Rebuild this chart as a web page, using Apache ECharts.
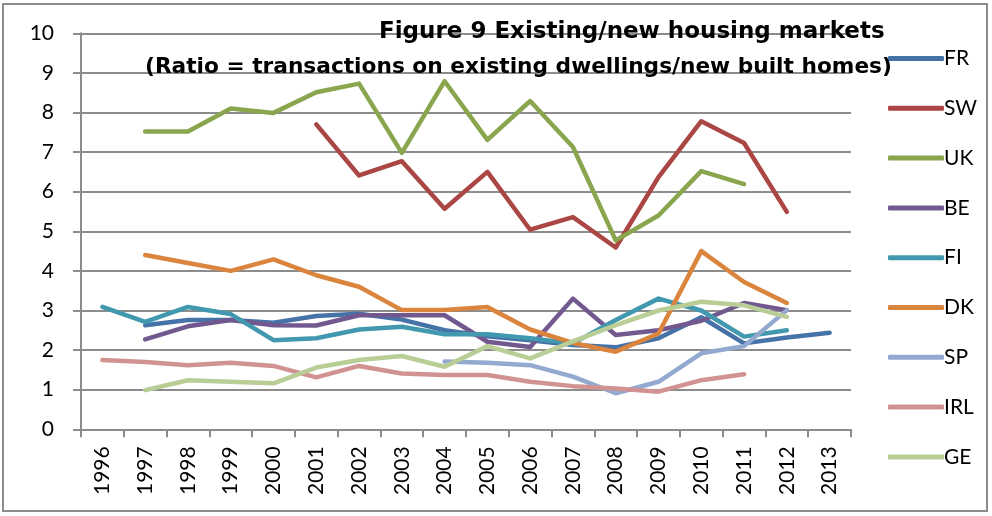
<!DOCTYPE html>
<html>
<head>
<meta charset="utf-8">
<script src="https://cdn.jsdelivr.net/npm/echarts@6/dist/echarts.min.js"></script>
<style>
  html, body { margin: 0; padding: 0; background: #fff; }
  #chart { width: 992px; height: 516px; }
  #frame { position: absolute; left: 2px; top: 3px; width: 986px; height: 509px; border: 2px solid #8c8c8c; box-sizing: border-box; pointer-events: none; }
</style>
</head>
<body>
<div id="chart"></div>
<div id="frame"></div>
<script>
var years = ['1996','1997','1998','1999','2000','2001','2002','2003','2004','2005','2006','2007','2008','2009','2010','2011','2012','2013'];
var yTicks = [0, 10, 1];

var FR  = [null, 2.63, 2.76, 2.76, 2.69, 2.86, 2.92, 2.77, 2.5, 2.35, 2.25, 2.13, 2.07, 2.3, 2.83, 2.17, 2.32, 2.44];
var SW  = [null, null, null, null, null, 7.7, 6.41, 6.77, 5.57, 6.5, 5.04, 5.36, 4.59, 6.37, 7.78, 7.23, 5.49, null];
var UK  = [null, 7.52, 7.52, 8.1, 7.99, 8.51, 8.73, 6.98, 8.79, 7.31, 8.29, 7.13, 4.77, 5.4, 6.52, 6.19, null, null];
var BE  = [null, 2.27, 2.6, 2.76, 2.63, 2.62, 2.88, 2.88, 2.88, 2.21, 2.08, 3.3, 2.38, 2.5, 2.74, 3.19, 3.01, null];
var FI  = [3.09, 2.71, 3.09, 2.91, 2.25, 2.3, 2.52, 2.59, 2.4, 2.4, 2.3, 2.17, 2.76, 3.3, 3.0, 2.34, 2.5, null];
var DK  = [null, 4.4, 4.2, 4.0, 4.29, 3.89, 3.6, 3.01, 3.01, 3.09, 2.52, 2.18, 1.96, 2.42, 4.5, 3.72, 3.19, null];
var SP  = [null, null, null, null, null, null, null, null, 1.71, 1.68, 1.62, 1.33, 0.91, 1.2, 1.92, 2.1, 3.01, null];
var IRL = [1.75, 1.7, 1.62, 1.68, 1.6, 1.31, 1.6, 1.41, 1.37, 1.37, 1.2, 1.09, 1.03, 0.95, 1.24, 1.39, null, null];
var GE  = [null, 0.99, 1.24, 1.2, 1.16, 1.56, 1.75, 1.85, 1.58, 2.1, 1.79, 2.22, 2.63, 3.0, 3.22, 3.13, 2.84, null];

var names  = ['FR', 'SW', 'UK', 'BE', 'FI', 'DK', 'SP', 'IRL', 'GE'];
var values = [FR, SW, UK, BE, FI, DK, SP, IRL, GE];
var colors = ['#4572A7', '#AA4643', '#89A54E', '#71588F', '#4198AF', '#DB843D', '#93A9CF', '#D19392', '#B9CD96'];

var font = 'Lato, "Open Sans", sans-serif';
var titleFont = '"DejaVu Sans", sans-serif';

var series = [];
for (var i = 0; i < names.length; i++) {
    series.push({
        name: names[i],
        type: 'line',
        data: values[i],
        symbol: 'none',
        connectNulls: false,
        lineStyle: { width: 4.5, color: colors[i], cap: 'round', join: 'round' },
        itemStyle: { color: colors[i] }
    });
}

var chart = echarts.init(document.getElementById('chart'));
var option = {
    animation: false,
    color: colors,
    textStyle: { fontFamily: font },
    title: [
        {
            text: 'Figure 9 Existing/new housing markets',
            left: 379, top: 21,
            padding: 0,
            textStyle: { fontFamily: titleFont, fontWeight: 'bold', fontSize: 23, color: '#000' }
        },
        {
            text: '(Ratio = transactions on existing dwellings/new built homes)',
            left: 145, top: 56,
            padding: 0,
            textStyle: { fontFamily: titleFont, fontWeight: 'bold', fontSize: 21.7, color: '#000' }
        }
    ],
    legend: {
        orient: 'vertical',
        left: 883, top: 43,
        itemWidth: 56, itemHeight: 5,
        itemGap: 28.8,
        icon: 'roundRect',
        textStyle: { fontFamily: font, fontSize: 21, color: '#000', padding: [0, 0, 0, -5] },
        data: names
    },
    grid: { left: 81, right: 141, top: 33.3, bottom: 86.7, containLabel: false },
    xAxis: {
        type: 'category',
        data: years,
        boundaryGap: true,
        axisLine: { lineStyle: { color: '#8c8c8c', width: 2 } },
        axisTick: { show: true, length: 8, interval: 0, lineStyle: { color: '#8c8c8c', width: 2 } },
        axisLabel: { rotate: 90, interval: 0, fontSize: 21, color: '#000', margin: 17, fontFamily: font }
    },
    yAxis: {
        type: 'value',
        min: yTicks[0], max: yTicks[1], interval: yTicks[2],
        axisLine: { show: true, lineStyle: { color: '#8c8c8c', width: 2 } },
        axisTick: { show: true, length: 8, lineStyle: { color: '#8c8c8c', width: 2 } },
        splitLine: { show: true, lineStyle: { color: '#8c8c8c', width: 2 } },
        axisLabel: { fontSize: 21, color: '#000', margin: 27, fontFamily: font }
    },
    series: series
};
chart.setOption(option);
</script>
</body>
</html>
